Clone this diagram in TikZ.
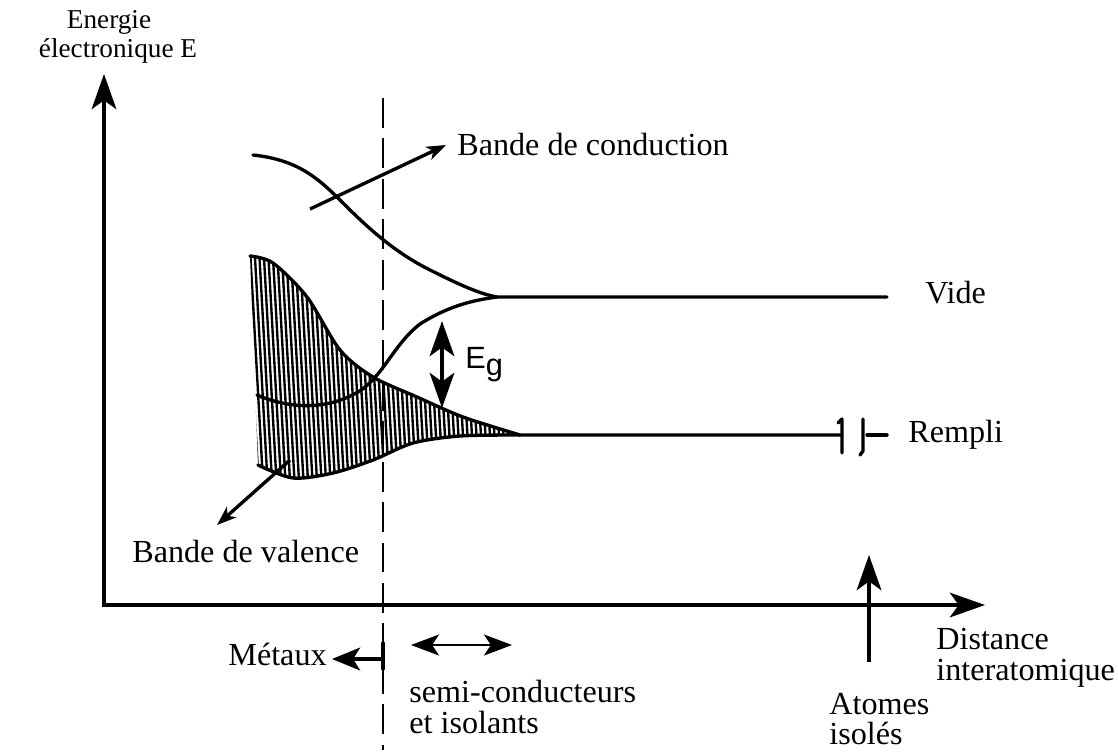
\documentclass[tikz,border=0pt]{standalone}
\usepackage{fontspec}
\setmainfont{Liberation Serif}
\newfontfamily\egfont{Liberation Sans}
\usetikzlibrary{arrows.meta,calc,positioning}

\begin{document}
\begin{tikzpicture}[
        x=0.02cm, y=-0.02cm,
        txt/.style={font=\fontsize{18.3}{17.5}\selectfont, inner sep=0pt},
        small/.style={font=\fontsize{15.5}{15.5}\selectfont, inner sep=0pt},
        axisline/.style={-{Stealth[length=20pt, width=14pt, inset=5pt]}, line width=2.1pt},
        band/.style={line width=1.9pt, line join=round, line cap=round},
        hatch/.style={line width=1.35pt},
        pointer/.style={-{Stealth[length=16pt, width=13pt, inset=4pt]}, line width=1.8pt},
        thinpointer/.style={-{Stealth[length=11pt, width=8pt, inset=3pt]}, line width=1.9pt},
        border/.style={dash pattern=on 17pt off 6pt, line width=1.6pt}
    ]
    \useasboundingbox (0,0) rectangle (1118,751);

    % axes
    \coordinate (origin) at (104,605);
    \coordinate (ytip) at (104,74);
    \coordinate (xtip) at (985,605);
    \draw[axisline, {Stealth[length=20pt, width=14pt, inset=5pt]}-{Stealth[length=20pt, width=14pt, inset=5pt]}] (ytip) -- (origin) -- (xtip);
    \node[small, anchor=base] (energie) at (109,28) {Energie};
    \node[small, anchor=base] (electro) at (118,57) {électronique E};
    \node[txt, align=left, anchor=west] (distance) at (936,658) {Distance\\interatomique};

    % limite metaux / semi-conducteurs
    \coordinate (limtop) at (383,98);
    \coordinate (limbot) at (383,750);
    \draw[border] (limtop) -- (limbot);

    % bande de conduction
    \draw[band] (253,155) .. controls (300,160) and (320,180) .. (345,205)
        .. controls (375,235) and (400,255) .. (430,270)
        .. controls (460,285) and (480,294) .. (497,297) -- (887,297);
    \draw[band] (257,395) .. controls (280,405) and (320,414) .. (358,392)
        .. controls (383,377) and (393,345) .. (420,324)
        .. controls (450,305) and (475,300) .. (497,297);

    % bande de valence (hachuree)
    \begin{scope}
        \clip plot[smooth] coordinates {(250,256) (273,263) (307,297) (340,350) (373,377) (417,397) (463,417) (520,435)}
            -- plot[smooth] coordinates {(520,435) (460,436) (413,443) (373,460) (333,473) (293,478) (258,465)} -- cycle;
        \foreach \x in {236,240.5,...,530}
            \draw[hatch] (\x,240) -- (\x+14,490);
    \end{scope}
    \draw[band] plot[smooth] coordinates {(250,256) (273,263) (307,297) (340,350) (373,377) (417,397) (463,417) (520,435)} -- (842,435);
    \draw[band] plot[smooth] coordinates {(258,465) (293,478) (333,473) (373,460) (413,443) (460,436) (520,435)};

    % coupure
    \draw[band] (838,423) -- (842,419) -- (842,453);
    \draw[band] (863,419) -- (863,451) -- (860,455);
    \draw[band] (867,435) -- (887,435);
    \node[txt, anchor=base west] (vide) at (925,303) {Vide};
    \node[txt, anchor=base west] (rempli) at (908,442) {Rempli};

    % gap
    \coordinate (gaptop) at (442,321);
    \coordinate (gapbot) at (442,408);
    \draw[axisline, {Stealth[length=20pt, width=14pt, inset=5pt]}-{Stealth[length=20pt, width=14pt, inset=5pt]}] (gaptop) -- (gapbot);
    \node[anchor=base west, inner sep=0pt, font=\egfont\fontsize{17.5}{17.5}\selectfont] (eg) at (465,368) {E\raisebox{-4pt}{g}};

    % legendes
    \node[txt, anchor=base west] (conduction) at (457,155) {Bande de conduction};
    \coordinate (condtail) at (310,209);
    \coordinate (condtip) at (446,145);
    \draw[thinpointer] (condtail) -- (condtip);
    \node[txt, anchor=base west] (valence) at (132,562) {Bande de valence};
    \coordinate (valtail) at (290,460);
    \coordinate (valtip) at (217,525);
    \draw[thinpointer] (valtail) -- (valtip);

    \node[txt, anchor=base east] (metaux) at (327,665) {Métaux};
    \coordinate (metstart) at (383,659);
    \coordinate (metend) at (332,659);
    \draw[band] (383,643) -- (383,669);
    \draw[pointer] (metstart) -- (metend);
    \coordinate (semileft) at (411,645);
    \coordinate (semiright) at (512,645);
    \draw[pointer, line width=1.1pt, {Stealth[length=16pt, width=12pt, inset=4pt]}-{Stealth[length=16pt, width=12pt, inset=4pt]}] (semileft) -- (semiright);
    \node[txt, align=left, anchor=west] (semi) at (409,707) {semi-conducteurs\\et isolants};

    \coordinate (atomtail) at (869,662);
    \coordinate (atomtip) at (869,555);
    \draw[axisline] (atomtail) -- (atomtip);
    \node[txt, align=left, anchor=west] (atomes) at (829,719) {Atomes\\isolés};
\end{tikzpicture}
\end{document}
